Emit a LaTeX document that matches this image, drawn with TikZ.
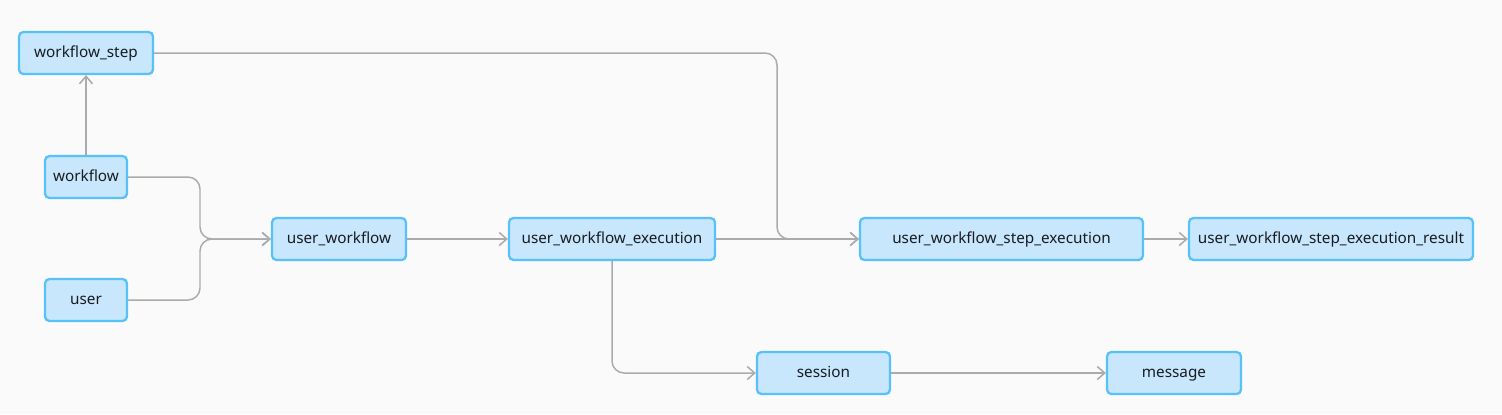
\documentclass[tikz,border=0pt]{standalone}
\usepackage{fontspec}
\setmainfont{Noto Sans}
\usepackage{xcolor}
\usetikzlibrary{arrows.meta,positioning}
\definecolor{ink}{HTML}{181C21}
\definecolor{edge}{HTML}{ABABAB}
\definecolor{frame}{HTML}{56C2F7}
\definecolor{pale}{HTML}{C8E6FC}
\definecolor{paper}{HTML}{FAFAFA}
\tikzset{
  tablebox/.style={draw=frame,line width=1.3pt,rounded corners=2.5pt,fill=pale,
    text=ink,align=center,inner sep=0pt,minimum height=0.84cm,
    text height=6.6pt,text depth=1.7pt,
    font=\fontsize{8.7}{10}\selectfont},
  linkarrow/.style={-{Straight Barb[length=1.5mm,width=2.6mm]},line width=0.85pt,
    draw=edge,rounded corners=0.24cm}
}

\begin{document}
\begin{tikzpicture}[x=0.02cm,y=-0.02cm]
\fill[paper] (0,0) rectangle (1502,414);
\node[tablebox,minimum width=2.68cm] (wfstep) at (86,53) {workflow\_step};
\node[tablebox,minimum width=1.64cm] (wf) at (86,177) {workflow};
\node[tablebox,minimum width=1.64cm] (usr) at (86,300) {user};
\node[tablebox,minimum width=2.68cm] (uwf) at (339,239) {user\_workflow};
\node[tablebox,minimum width=4.12cm] (uwfexec) at (612,239) {user\_workflow\_execution};
\node[tablebox,minimum width=5.66cm] (stepexec) at (1001.5,239) {user\_workflow\_step\_execution};
\node[tablebox,minimum width=5.68cm] (stepres) at (1331,239) {user\_workflow\_step\_execution\_result};
\node[tablebox,minimum width=2.66cm] (sess) at (823.5,373) {session};
\node[tablebox,minimum width=2.68cm] (msg) at (1174,373) {message};
% bend points
\coordinate (merge) at (200,239);
\coordinate (drop) at (777,239);
\draw[linkarrow] (wf) -- (wfstep);
\draw[linkarrow] (wf.east) -| (merge) -- (uwf.west);
\draw[linkarrow] (usr.east) -| (merge) -- (uwf.west);
\draw[linkarrow] (uwf) -- (uwfexec);
\draw[linkarrow] (uwfexec) -- (stepexec);
\draw[linkarrow] (wfstep.east) -| (drop) -- (stepexec.west);
\draw[linkarrow] (stepexec) -- (stepres);
\draw[linkarrow] (uwfexec.south) |- (sess.west);
\draw[linkarrow] (sess) -- (msg);
\end{tikzpicture}
\end{document}
